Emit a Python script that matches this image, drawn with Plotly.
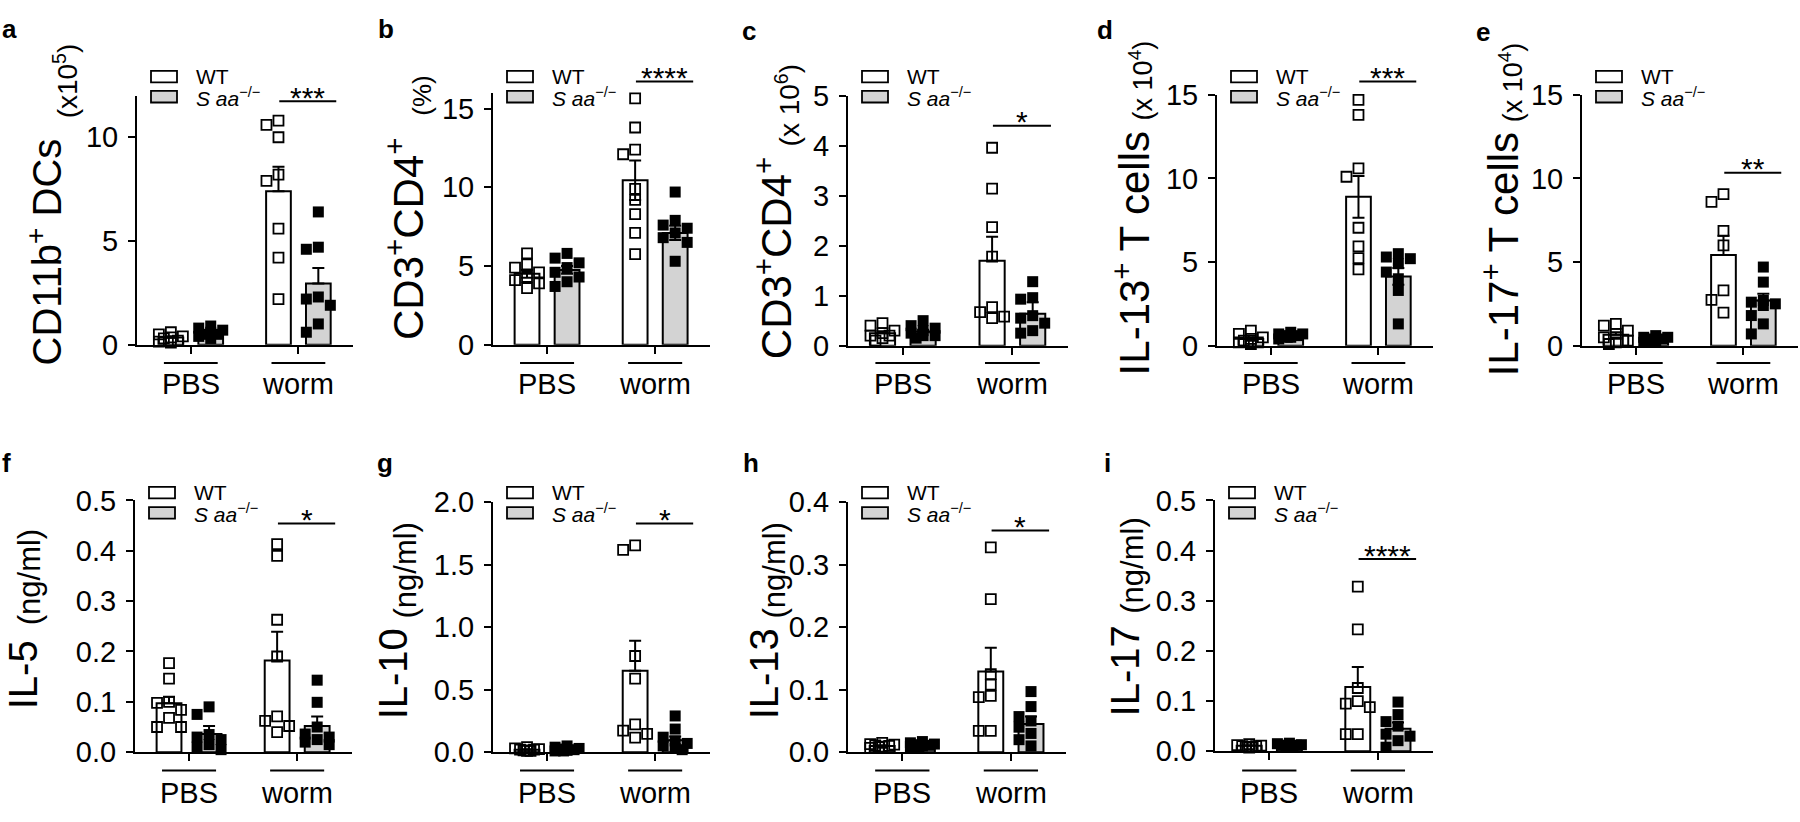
import plotly.graph_objects as go

W, H = 1800, 822
FONT = "Liberation Sans, Arial, Helvetica, sans-serif"

# ---------------- data ----------------
GROUPS = ["PBS", "worm"]
SERIES = ["WT", "<i>S aa</i><sup>−/−</sup>"]

# a: CD11b+ DCs (x10^5)
a_wt_pbs = [0.6, 0.5, 0.4, 0.35, 0.3, 0.2, 0.15, 0.1]
a_saa_pbs = [0.9, 0.8, 0.7, 0.6, 0.5, 0.5, 0.4, 0.3]
a_wt_worm = [10.8, 10.6, 10.0, 8.2, 7.9, 5.6, 4.2, 2.2]
a_saa_worm = [6.4, 4.7, 4.6, 2.3, 2.2, 1.9, 1.0, 0.6]
a_mean = [0.35, 0.6, 7.4, 2.95]
a_sem = [0.06, 0.07, 1.18, 0.75]
a_sig = ("***", 11.73)

# b: CD3+CD4+ (%)
b_wt_pbs = [5.8, 5.1, 4.9, 4.6, 4.3, 4.1, 3.9, 3.6]
b_saa_pbs = [5.8, 5.5, 5.2, 4.9, 4.6, 4.3, 4.0, 3.7]
b_wt_worm = [15.65, 13.8, 12.4, 12.1, 9.9, 9.2, 8.3, 7.1, 5.75]
b_saa_worm = [9.7, 7.9, 7.6, 7.4, 7.1, 6.8, 6.5, 5.3]
b_mean = [4.5, 4.75, 10.45, 7.1]
b_sem = [0.25, 0.25, 1.25, 0.45]
b_sig = ("****", 16.73)

# c: CD3+CD4+ (x10^6)
c_wt_pbs = [0.45, 0.4, 0.3, 0.25, 0.2, 0.2, 0.15, 0.1]
c_saa_pbs = [0.5, 0.4, 0.35, 0.3, 0.25, 0.2, 0.2, 0.15]
c_wt_worm = [3.96, 3.14, 2.37, 1.78, 0.77, 0.67, 0.58, 0.55]
c_saa_worm = [1.28, 0.96, 0.93, 0.6, 0.55, 0.45, 0.3, 0.25]
c_mean = [0.25, 0.28, 1.7, 0.64]
c_sem = [0.04, 0.04, 0.48, 0.23]
c_sig = ("*", 4.4)

# d: IL-13+ T cells (x10^4)
d_wt_pbs = [0.9, 0.7, 0.5, 0.4, 0.3, 0.2, 0.2, 0.1]
d_saa_pbs = [0.8, 0.7, 0.7, 0.6, 0.6, 0.5, 0.5, 0.4]
d_wt_worm = [14.7, 13.8, 10.6, 10.1, 7.05, 5.94, 5.23, 4.56]
d_saa_worm = [5.5, 5.3, 5.2, 4.9, 4.4, 4.0, 3.3, 1.3]
d_mean = [0.4, 0.6, 8.9, 4.14]
d_sem = [0.1, 0.05, 1.25, 0.5]
d_sig = ("***", 15.8)

# e: IL-17+ T cells (x10^4)
e_wt_pbs = [1.3, 1.2, 0.9, 0.7, 0.5, 0.3, 0.2, 0.1]
e_saa_pbs = [0.6, 0.5, 0.5, 0.4, 0.4, 0.3, 0.3, 0.2]
e_wt_worm = [9.06, 8.6, 6.86, 6.0, 3.3, 2.74, 1.97]
e_saa_worm = [4.7, 3.8, 2.7, 2.6, 2.5, 2.4, 1.8, 1.3, 0.7]
e_mean = [0.65, 0.4, 5.42, 2.7]
e_sem = [0.15, 0.05, 1.15, 0.4]
e_sig = ("**", 10.34)

# f: IL-5 (ng/ml)
f_wt_pbs = [0.177, 0.146, 0.1, 0.098, 0.084, 0.068, 0.05, 0.05]
f_saa_pbs = [0.09, 0.075, 0.035, 0.03, 0.025, 0.015, 0.01, 0.005]
f_wt_worm = [0.413, 0.39, 0.263, 0.19, 0.071, 0.062, 0.052, 0.04]
f_saa_worm = [0.143, 0.099, 0.05, 0.036, 0.03, 0.025, 0.02, 0.015]
f_mean = [0.097, 0.036, 0.182, 0.052]
f_sem = [0.013, 0.016, 0.057, 0.019]
f_sig = ("*", 0.454)

# g: IL-10 (ng/ml)
g_wt_pbs = [0.04, 0.03, 0.025, 0.02, 0.02, 0.015, 0.01, 0.01]
g_saa_pbs = [0.05, 0.04, 0.03, 0.025, 0.02, 0.015, 0.01, 0.01]
g_wt_worm = [1.656, 1.62, 0.77, 0.588, 0.223, 0.172, 0.146, 0.116]
g_saa_worm = [0.29, 0.185, 0.12, 0.09, 0.07, 0.05, 0.03, 0.02]
g_mean = [0.02, 0.024, 0.652, 0.095]
g_sem = [0.004, 0.005, 0.24, 0.03]
g_sig = ("*", 1.83)

# h: IL-13 (ng/ml)
h_wt_pbs = [0.015, 0.013, 0.012, 0.01, 0.009, 0.008, 0.007, 0.011]
h_saa_pbs = [0.017, 0.015, 0.013, 0.012, 0.01, 0.009, 0.008, 0.011]
h_wt_worm = [0.328, 0.245, 0.125, 0.108, 0.09, 0.088, 0.034, 0.034]
h_saa_worm = [0.097, 0.073, 0.057, 0.05, 0.04, 0.03, 0.02, 0.01]
h_mean = [0.01, 0.012, 0.129, 0.045]
h_sem = [0.001, 0.001, 0.038, 0.012]
h_sig = ("*", 0.355)

# i: IL-17 (ng/ml)
i_wt_pbs = [0.014, 0.012, 0.011, 0.01, 0.009, 0.008, 0.007, 0.01]
i_saa_pbs = [0.016, 0.015, 0.013, 0.012, 0.011, 0.01, 0.009, 0.012]
i_wt_worm = [0.328, 0.243, 0.126, 0.1, 0.095, 0.088, 0.034, 0.034]
i_saa_worm = [0.098, 0.073, 0.059, 0.05, 0.034, 0.03, 0.021, 0.008]
i_mean = [0.011, 0.012, 0.128, 0.045]
i_sem = [0.001, 0.001, 0.04, 0.012]
i_sig = ("****", 0.383)

TITLES_BIG = ["CD11b<sup>+</sup> DCs", "CD3<sup>+</sup>CD4<sup>+</sup>", "CD3<sup>+</sup>CD4<sup>+</sup>",
              "IL-13<sup>+</sup> T cells", "IL-17<sup>+</sup> T cells", "IL-5", "IL-10", "IL-13", "IL-17"]
TITLES_SMALL = ["(x10<sup>5</sup>)", "(%)", "(x 10<sup>6</sup>)", "(x 10<sup>4</sup>)", "(x 10<sup>4</sup>)",
                "(ng/ml)", "(ng/ml)", "(ng/ml)", "(ng/ml)"]
LETTERS = ["a", "b", "c", "d", "e", "f", "g", "h", "i"]
TICKS = [[0, 5, 10], [0, 5, 10, 15], [0, 1, 2, 3, 4, 5], [0, 5, 10, 15], [0, 5, 10, 15],
         [0, 0.1, 0.2, 0.3, 0.4, 0.5], [0, 0.5, 1.0, 1.5, 2.0], [0, 0.1, 0.2, 0.3, 0.4],
         [0, 0.1, 0.2, 0.3, 0.4, 0.5]]
YMAX = [12, 16, 5, 15, 15, 0.5, 2.0, 0.4, 0.5]

DATA = [
    ([a_wt_pbs, a_saa_pbs, a_wt_worm, a_saa_worm], a_mean, a_sem, a_sig),
    ([b_wt_pbs, b_saa_pbs, b_wt_worm, b_saa_worm], b_mean, b_sem, b_sig),
    ([c_wt_pbs, c_saa_pbs, c_wt_worm, c_saa_worm], c_mean, c_sem, c_sig),
    ([d_wt_pbs, d_saa_pbs, d_wt_worm, d_saa_worm], d_mean, d_sem, d_sig),
    ([e_wt_pbs, e_saa_pbs, e_wt_worm, e_saa_worm], e_mean, e_sem, e_sig),
    ([f_wt_pbs, f_saa_pbs, f_wt_worm, f_saa_worm], f_mean, f_sem, f_sig),
    ([g_wt_pbs, g_saa_pbs, g_wt_worm, g_saa_worm], g_mean, g_sem, g_sig),
    ([h_wt_pbs, h_saa_pbs, h_wt_worm, h_saa_worm], h_mean, h_sem, h_sig),
    ([i_wt_pbs, i_saa_pbs, i_wt_worm, i_saa_worm], i_mean, i_sem, i_sig),
]

# ---------------- layout geometry (pixels) ----------------
# left, right, y0 (value 0), top (value ymax)
GEOM = [
    (137, 353, 342, 83), (493, 710, 342, 80), (848, 1068, 343, 83), (1217, 1433, 343, 82),
    (1582, 1798, 343, 82),
    (135, 352, 766, 504), (493, 710, 766, 506), (848, 1066, 766, 506), (1215, 1433, 765, 504),
]
BIG_XY = [(45, 246), (405, 232), (774, 252), (1132, 247), (1501, 248),
          (23, 686), (393, 685), (764, 685), (1125, 682)]
BIG_SIZE = [40, 42, 42, 42, 42, 40, 40, 40, 40]
SMALL_XY = [(66, 68), (422, 83), (788, 93), (1141, 67), (1511, 69),
            (29, 584), (406, 577), (775, 577), (1133, 572)]
SMALL_SIZE = [28, 26, 28, 27, 27, 31, 31, 31, 31]
# left x, box-bottom y of the panel letters
LETTER_XY = [(0, 31), (376, 31), (740, 33), (1095, 32), (1474, 34),
             (0, 483), (375, 483), (741, 483), (1102, 483)]
TWO_SIDED = [False, True, False, True, False, False, False, False, False]
LEG_Y = [(63, 84)] * 5 + [(496, 517)] * 4
GROUP_LINE_Y = [361] * 5 + [785] * 4
GROUP_LABEL_Y = [383] * 5 + [808] * 4

X_POS = [0.0, 1.0, 2.7, 3.7]
X_RANGE = [-0.85, 4.57]
GROUP_CENTERS = [0.5, 3.2]
BAR_W = 0.62
GRAY = "#d3d3d3"
FILLS = ["white", GRAY, "white", GRAY]
MSIZE = 11


def ppx(x):
    return x / W


def ppy(y):
    return 1 - y / H


def swarm(vals, ppu_y, ppu_x):
    order = sorted(range(len(vals)), key=lambda k: -vals[k])
    cands = [0, -7, 7, -12, 12, -3.5, 3.5, -10, 10]
    placed = []
    offs = [0.0] * len(vals)
    for k in order:
        yp = vals[k] * ppu_y
        best, best_d = None, -1
        for c in cands:
            d = min([max(abs(c - px), abs(yp - py)) for px, py in placed], default=1e9)
            if d >= MSIZE:
                best = c
                break
            if d > best_d:
                best_d, best = d, c
        placed.append((best, yp))
        offs[k] = best / ppu_x
    return offs


fig = go.Figure()
layout = dict(width=W, height=H, margin=dict(l=0, r=0, t=0, b=0), paper_bgcolor="white",
              plot_bgcolor="white", showlegend=False, font=dict(family=FONT, color="black"))
shapes, annotations = [], []

for idx, (pts, mean, sem, sig) in enumerate(DATA):
    k = idx + 1
    xn = "x" if k == 1 else f"x{k}"
    yn = "y" if k == 1 else f"y{k}"
    left, right, y0, top = GEOM[idx]
    ymax = YMAX[idx]
    ppu_y = (y0 - top) / ymax
    ppu_x = (right - left) / (X_RANGE[1] - X_RANGE[0])

    def vpy(v):
        return ppy(y0 - v * ppu_y)

    # bars
    fig.add_trace(go.Bar(x=X_POS, y=mean, width=BAR_W, xaxis=xn, yaxis=yn,
                         marker=dict(color=FILLS, line=dict(color="black", width=2))))
    # points
    for si in range(4):
        vals = pts[si]
        offs = swarm(vals, ppu_y, ppu_x)
        xs = [X_POS[si] + o for o in offs]
        if si % 2 == 0:
            mk = dict(symbol="square-open", color="black", size=MSIZE - 1, line=dict(width=1.8))
        else:
            mk = dict(symbol="square", color="black", size=MSIZE, line=dict(width=0))
        fig.add_trace(go.Scatter(x=xs, y=vals, mode="markers", marker=mk, cliponaxis=False,
                                 xaxis=xn, yaxis=yn))
    # error bars
    minus = sem if TWO_SIDED[idx] else [0] * len(sem)
    fig.add_trace(go.Scatter(x=X_POS, y=mean, mode="markers", marker=dict(size=2, opacity=0),
                             cliponaxis=False, xaxis=xn, yaxis=yn,
                             error_y=dict(type="data", array=sem, arrayminus=minus, symmetric=False,
                                          thickness=2, width=6, color="black")))

    xa = dict(domain=[ppx(left), ppx(right)], range=X_RANGE, anchor=yn, showline=True,
              linecolor="black", linewidth=2, ticks="outside", tickvals=GROUP_CENTERS,
              ticklen=7, tickwidth=2, tickcolor="black", showticklabels=False,
              showgrid=False, zeroline=False, fixedrange=True)
    ya = dict(domain=[ppy(y0), ppy(top)], range=[0, ymax], anchor=xn, showline=True,
              linecolor="black", linewidth=2, ticks="outside", tickvals=TICKS[idx],
              tickformat=".1f" if idx >= 5 else "d", ticklen=7, tickwidth=2, tickcolor="black",
              tickfont=dict(size=29, family=FONT, color="black"), ticklabelstandoff=4,
              showgrid=False, zeroline=False, fixedrange=True)
    layout["xaxis" if k == 1 else f"xaxis{k}"] = xa
    layout["yaxis" if k == 1 else f"yaxis{k}"] = ya

    # group lines + labels
    for gi, gc in enumerate(GROUP_CENTERS):
        shapes.append(dict(type="line", xref=xn, yref="paper", x0=gc - 0.675, x1=gc + 0.675,
                           y0=ppy(GROUP_LINE_Y[idx]), y1=ppy(GROUP_LINE_Y[idx]),
                           line=dict(color="black", width=2)))
        annotations.append(dict(xref=xn, yref="paper", x=gc, y=ppy(GROUP_LABEL_Y[idx]),
                                text=GROUPS[gi], showarrow=False, xanchor="center", yanchor="middle",
                                font=dict(size=29, family=FONT, color="black")))

    # significance
    stars, sval = sig
    shapes.append(dict(type="line", xref=xn, yref="paper", x0=X_POS[2] + 0.02, x1=X_POS[3] + 0.45,
                       y0=vpy(sval), y1=vpy(sval), line=dict(color="black", width=2)))
    annotations.append(dict(xref=xn, yref="paper", x=(X_POS[2] + X_POS[3] + 0.47) / 2,
                            y=vpy(sval) + 4 / H, text=stars, showarrow=False,
                            xanchor="center", yanchor="middle",
                            font=dict(size=30, family=FONT, color="black")))

    # legend
    for li, ly in enumerate(LEG_Y[idx]):
        shapes.append(dict(type="rect", xref="paper", yref="paper",
                           x0=ppx(left + 14), x1=ppx(left + 40), y0=ppy(ly - 6), y1=ppy(ly + 6),
                           fillcolor=FILLS[li], line=dict(color="black", width=1.8)))
        annotations.append(dict(xref="paper", yref="paper", x=ppx(left + 57), y=ppy(ly),
                                text=SERIES[li], showarrow=False, xanchor="left", yanchor="middle",
                                font=dict(size=21, family=FONT, color="black")))

    # axis titles
    bx, by = BIG_XY[idx]
    sx, sy = SMALL_XY[idx]
    annotations.append(dict(xref="paper", yref="paper", x=ppx(bx), y=ppy(by), text=TITLES_BIG[idx],
                            textangle=-90, showarrow=False, xanchor="center", yanchor="middle",
                            font=dict(size=BIG_SIZE[idx], family=FONT, color="black")))
    annotations.append(dict(xref="paper", yref="paper", x=ppx(sx), y=ppy(sy), text=TITLES_SMALL[idx],
                            textangle=-90, showarrow=False, xanchor="center", yanchor="middle",
                            font=dict(size=SMALL_SIZE[idx], family=FONT, color="black")))
    # panel letter
    lx, ly = LETTER_XY[idx]
    annotations.append(dict(xref="paper", yref="paper", x=ppx(lx), y=ppy(ly), text=f"<b>{LETTERS[idx]}</b>",
                            showarrow=False, xanchor="left", yanchor="bottom",
                            font=dict(size=26, family=FONT, color="black")))

layout["shapes"] = shapes
layout["annotations"] = annotations
fig.update_layout(**layout)
fig.write_html("out.html", config={"displayModeBar": False},
               post_script="document.body.style.margin='0px';")
